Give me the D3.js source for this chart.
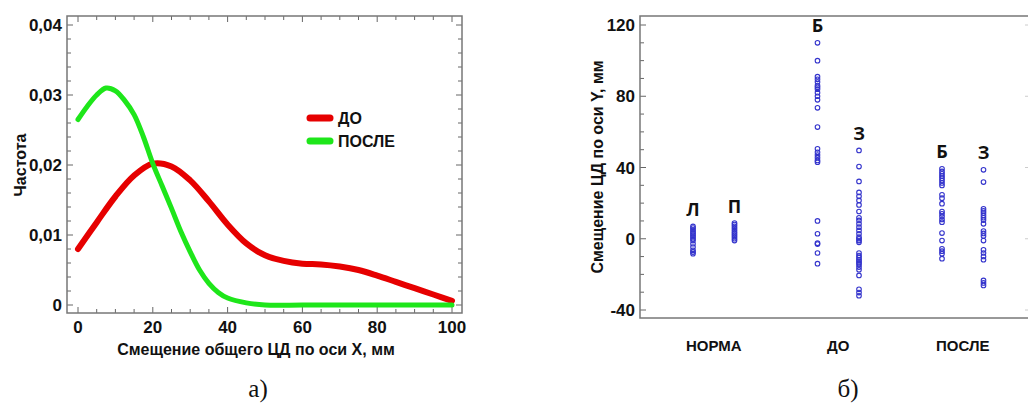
<!DOCTYPE html>
<html>
<head>
<meta charset="utf-8">
<script src="https://cdn.jsdelivr.net/npm/d3@7"></script>
<style>
  body { margin: 0; background: #fff; }
  text { font-family: "Liberation Sans", Arial, sans-serif; font-weight: bold; fill: #111; }
</style>
</head>
<body>
<div id="chart-area"></div>
<script>
// panel a) - density curves
const densityX = [0, 5, 10, 15, 20, 25, 30, 35, 40, 45, 50, 55, 60, 65, 70, 75, 80, 85, 90, 95, 100];
const doDensity = [0.0080, 0.0118, 0.0155, 0.0185, 0.0202, 0.0198, 0.0178, 0.0148, 0.0115, 0.0088, 0.0071,
                   0.0063, 0.0059, 0.0058, 0.0055, 0.0050, 0.0042, 0.0033, 0.0024, 0.0015, 0.0006];
const posleX = [0, 2.5, 5, 7.5, 10, 12.5, 15, 17.5, 20, 22.5, 25, 27.5, 30, 32.5, 35, 37.5, 40, 45, 50, 60, 70, 80, 90, 100];
const posleDensity = [0.0265, 0.0284, 0.0300, 0.0310, 0.0306, 0.0292, 0.0272, 0.0240, 0.0202, 0.0170, 0.0138, 0.0105,
                      0.0076, 0.0050, 0.0031, 0.0018, 0.0010, 0.0003, 0.0000, 0, 0, 0, 0, 0];
const densityTicks = [0, 0.01, 0.02, 0.03, 0.04];
const xTicksA = [0, 20, 40, 60, 80, 100];
const seriesNames = ["ДО", "ПОСЛЕ"];

// panel b) - dot plot
const groupNames = ["НОРМА", "ДО", "ПОСЛЕ"];
const columns = ["НОРМА-Л", "НОРМА-П", "gap1", "ДО-Б", "ДО-З", "gap2", "ПОСЛЕ-Б", "ПОСЛЕ-З"];
const columnLetters = ["Л", "П", "Б", "З", "Б", "З"];
const normaL = [6.9, 6.0, 5.0, 4.0, 3.0, 2.0, 1.0, 0.0, -1.0, -2.8, -4.7, -6.5, -7.5, -8.4];
const normaP = [8.8, 8.0, 7.0, 6.0, 5.0, 4.0, 3.0, 2.0, 1.0, 0.0, -1.0];
const doB = [110, 100, 91, 89.5, 88, 86, 85, 84, 82, 80, 78, 73.5, 62.7, 50.5, 48.5, 47, 45.5, 44, 43,
             10, 2.8, -2.5, -3, -8, -14];
const doZ = [49.6, 40.5, 32.2, 26, 23.8, 21.5, 19, 15.3, 11.8, 10.3, 8.4, 6.5, 4.7, 2.8, 0.9, 0, -1, -2,
             -8, -9.4, -10.5, -11.7, -12.5, -13.5, -14.4, -15.9, -17.4, -20.6, -28.4, -30.2, -32];
const posleB = [39.3, 37.8, 36.5, 35.2, 34, 32.7, 31.3, 29.9, 24.7, 22.8, 19.7, 15.3, 14, 12.5, 10.8, 9.3,
                3.2, -1, -5.6, -7, -8.4, -11.2];
const posleZ = [38.7, 31.8, 16.8, 15.6, 14.4, 13.1, 11.8, 10.5, 8.4, 4.3, 3, 1.5, -1, -6.2, -8, -9.9, -11.8,
                -23.4, -24.8, -26.2];
const yTicksB = [-40, 0, 40, 80, 120];

let svg = d3.select("#chart-area")
        .append("svg")
        .attr("width", 1028)
        .attr("height", 414)
        .style("display", "block");

svg.append("rect").attr("width", 1028).attr("height", 414).attr("fill", "#fff");

// ---------- panel a ----------
let xA = d3.scaleLinear().domain([0, 100]).range([78, 452]);
let yA = d3.scaleLinear().domain([0, 0.04]).range([305, 25]);
let frameA = {x0: 67, x1: 462, y0: 16, y1: 313};

let gA = svg.append("g");

// inner ticks on all four sides
let minorYA = d3.range(0, 0.0401, 0.002);
let minorXA = d3.range(0, 100.1, 5);
minorYA.forEach(function(v){
    let major = Math.abs(v / 0.01 - Math.round(v / 0.01)) < 1e-6;
    let len = major ? 6 : 4;
    gA.append("line").attr("x1", frameA.x0).attr("x2", frameA.x0 + len)
      .attr("y1", yA(v)).attr("y2", yA(v)).attr("stroke", "#666").attr("stroke-width", 1);
    gA.append("line").attr("x1", frameA.x1).attr("x2", frameA.x1 - len)
      .attr("y1", yA(v)).attr("y2", yA(v)).attr("stroke", "#666").attr("stroke-width", 1);
});
minorXA.forEach(function(v){
    let len = v % 20 == 0 ? 6 : 4;
    gA.append("line").attr("x1", xA(v)).attr("x2", xA(v))
      .attr("y1", frameA.y1).attr("y2", frameA.y1 - len).attr("stroke", "#666").attr("stroke-width", 1);
    gA.append("line").attr("x1", xA(v)).attr("x2", xA(v))
      .attr("y1", frameA.y0).attr("y2", frameA.y0 + len).attr("stroke", "#666").attr("stroke-width", 1);
});

gA.append("rect")
  .attr("x", frameA.x0).attr("y", frameA.y0)
  .attr("width", frameA.x1 - frameA.x0).attr("height", frameA.y1 - frameA.y0)
  .attr("fill", "none").attr("stroke", "#777").attr("stroke-width", 1.5);

gA.selectAll(".ylabA").data(densityTicks).enter().append("text")
  .attr("x", 62).attr("y", d => yA(d)).attr("dy", "0.36em")
  .attr("text-anchor", "end").style("font-size", "17px")
  .text(d => d == 0 ? "0" : d3.format(".2f")(d).replace(".", ","));

gA.selectAll(".xlabA").data(xTicksA).enter().append("text")
  .attr("x", d => xA(d)).attr("y", 333)
  .attr("text-anchor", "middle").style("font-size", "17px")
  .text(d => d);

gA.append("text").attr("x", 256).attr("y", 355).attr("text-anchor", "middle")
  .style("font-size", "16px").text("Смещение общего ЦД по оси X, мм");

gA.append("text").attr("transform", "translate(26,165) rotate(-90)").attr("text-anchor", "middle")
  .style("font-size", "16px").text("Частота");

let lineA = d3.line().curve(d3.curveCatmullRom.alpha(0.5));

gA.append("path")
  .attr("d", lineA(densityX.map((x, i) => [xA(x), yA(doDensity[i])])))
  .attr("fill", "none").attr("stroke", "#e60000").attr("stroke-width", 6)
  .attr("stroke-linecap", "round").attr("stroke-linejoin", "round");

gA.append("path")
  .attr("d", lineA(posleX.map((x, i) => [xA(x), yA(posleDensity[i])])))
  .attr("fill", "none").attr("stroke", "#1ee61a").attr("stroke-width", 5)
  .attr("stroke-linecap", "round").attr("stroke-linejoin", "round");

// legend
let legendColors = ["#e60000", "#1ee61a"];
seriesNames.forEach(function(name, i){
    let ly = 118 + i * 23;
    gA.append("line").attr("x1", 310).attr("x2", 330).attr("y1", ly).attr("y2", ly)
      .attr("stroke", legendColors[i]).attr("stroke-width", 7).attr("stroke-linecap", "round");
    gA.append("text").attr("x", 338).attr("y", ly).attr("dy", "0.36em")
      .style("font-size", "16px").text(name);
});

// ---------- panel b ----------
let xB = d3.scalePoint().domain(columns).range([693, 983.5]);
let yB = d3.scaleLinear().domain([-40, 120]).range([310, 25]);
let frameB = {x0: 640, x1: 1031, y0: 16, y1: 318};

let gB = svg.append("g");

d3.range(-40, 121, 10).forEach(function(v){
    let len = v % 40 == 0 ? 6 : 4;
    gB.append("line").attr("x1", frameB.x0).attr("x2", frameB.x0 + len)
      .attr("y1", yB(v)).attr("y2", yB(v)).attr("stroke", "#666").attr("stroke-width", 1);
    if (v % 40 == 0) {
        gB.append("line").attr("x1", frameB.x1).attr("x2", frameB.x1 - len)
          .attr("y1", yB(v)).attr("y2", yB(v)).attr("stroke", "#ccc").attr("stroke-width", 1);
    }
});

gB.append("rect")
  .attr("x", frameB.x0).attr("y", frameB.y0)
  .attr("width", frameB.x1 - frameB.x0).attr("height", frameB.y1 - frameB.y0)
  .attr("fill", "none").attr("stroke", "#777").attr("stroke-width", 1.5);

gB.selectAll(".ylabB").data(yTicksB).enter().append("text")
  .attr("x", 635).attr("y", d => yB(d)).attr("dy", "0.36em")
  .attr("text-anchor", "end").style("font-size", "17px")
  .text(d => d);

gB.append("text").attr("transform", "translate(603,167) rotate(-90)").attr("text-anchor", "middle")
  .style("font-size", "16px").text("Смещение ЦД по оси Y, мм");

let dotColumns = [
    {col: "НОРМА-Л", values: normaL},
    {col: "НОРМА-П", values: normaP},
    {col: "ДО-Б", values: doB},
    {col: "ДО-З", values: doZ},
    {col: "ПОСЛЕ-Б", values: posleB},
    {col: "ПОСЛЕ-З", values: posleZ}
];

dotColumns.forEach(function(c, i){
    gB.selectAll(null).data(c.values).enter().append("circle")
      .attr("cx", xB(c.col))
      .attr("cy", d => yB(d))
      .attr("r", 2.3)
      .attr("fill", "none")
      .attr("stroke", "#3434cc")
      .attr("stroke-width", 1.1);
    gB.append("text")
      .attr("x", xB(c.col))
      .attr("y", yB(d3.max(c.values)) - 17)
      .attr("dy", "0.36em")
      .attr("text-anchor", "middle")
      .style("font-family", "'Open Sans', sans-serif")
      .style("font-size", "18px")
      .text(columnLetters[i]);
});

groupNames.forEach(function(g){
    let cx = (xB(g + "-" + (g == "НОРМА" ? "Л" : "Б")) + xB(g + "-" + (g == "НОРМА" ? "П" : "З"))) / 2;
    gB.append("text").attr("x", cx).attr("y", 351).attr("text-anchor", "middle")
      .style("font-size", "15px").text(g);
});

// captions
svg.append("text").attr("x", 258).attr("y", 397).attr("text-anchor", "middle")
   .style("font-family", "'Liberation Serif', serif").style("font-weight", "normal")
   .style("font-size", "25px").text("а)");
svg.append("text").attr("x", 848).attr("y", 397).attr("text-anchor", "middle")
   .style("font-family", "'Liberation Serif', serif").style("font-weight", "normal")
   .style("font-size", "25px").text("б)");
</script>
</body>
</html>
